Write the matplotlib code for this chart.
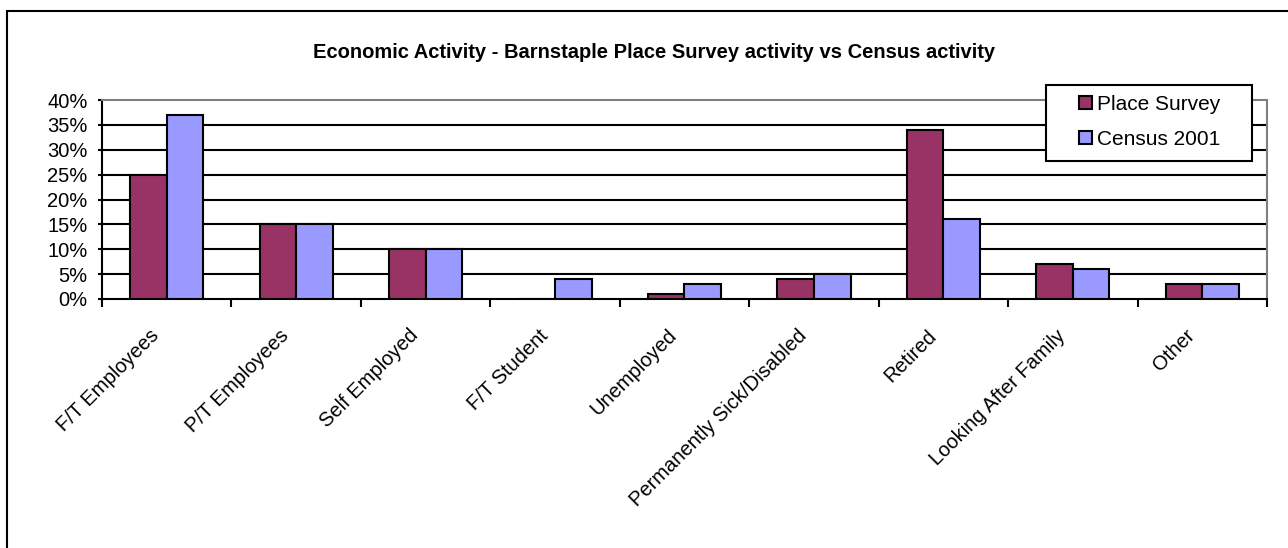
import matplotlib
matplotlib.use("Agg")
import matplotlib.pyplot as plt
import matplotlib.transforms as mtransforms
import numpy as np
from matplotlib.patches import Rectangle

categories = ["F/T Employees", "P/T Employees", "Self Employed", "F/T Student",
              "Unemployed", "Permanently Sick/Disabled", "Retired",
              "Looking After Family", "Other"]
place_survey = [25, 15, 10, 0, 1, 4, 34, 7, 3]
census_2001 = [37, 15, 10, 4, 3, 5, 16, 6, 3]
y_ticks = [0, 5, 10, 15, 20, 25, 30, 35, 40]

plt.rcParams["font.family"] = ["Liberation Sans", "DejaVu Sans"]

W, H = 1288, 548
fig = plt.figure(figsize=(W / 100, H / 100), dpi=100)
ax = fig.add_axes([102 / W, 1 - 299 / H, 1165 / W, 199 / H])

x = np.arange(len(categories))
w = 0.283
ax.bar(x + 0.5 - w / 2, place_survey, w, color="#993366", edgecolor="black",
       linewidth=1.5, label="Place Survey", zorder=3)
ax.bar(x + 0.5 + w / 2, census_2001, w, color="#9999FF", edgecolor="black",
       linewidth=1.5, label="Census 2001", zorder=3)

ax.set_xlim(0, len(categories))
ax.set_ylim(0, 40)
ax.set_yticks(y_ticks)
ax.set_yticklabels([f"{v}%" for v in y_ticks], fontsize=14.5)
ax.set_xticks(np.arange(len(categories) + 1))
ax.set_xticklabels([])
ax.tick_params(axis="x", direction="out", length=6, width=1.5)
ax.tick_params(axis="y", direction="out", length=3, width=1.5, pad=7.5)

# rotated category labels, anchored left of each category centre
off = mtransforms.ScaledTranslation(-17 / 100, -27 / 100, fig.dpi_scale_trans)
for xc, lab in zip(x + 0.5, categories):
    ax.text(xc, 0, lab, transform=ax.get_xaxis_transform() + off,
            rotation=45, rotation_mode="anchor", ha="right", va="top",
            fontsize=14.5, clip_on=False)

for v in y_ticks[1:-1]:
    ax.axhline(v, color="black", linewidth=1.5, zorder=1)

ax.spines["left"].set_linewidth(1.5)
ax.spines["bottom"].set_linewidth(1.5)
for s in ("top", "right"):
    ax.spines[s].set_color("#808080")
    ax.spines[s].set_linewidth(1.5)

# legend box
box = Rectangle((1046 / W, 1 - 161 / H), 206 / W, 76 / H, transform=fig.transFigure,
                facecolor="white", edgecolor="black", linewidth=1.5, zorder=4)
fig.patches.append(box)
leg = fig.legend(loc="center left", bbox_to_anchor=(1079 / W, 1 - 122 / H),
                 bbox_transform=fig.transFigure, fontsize=15, frameon=False,
                 handlelength=0.6, handleheight=0.6, handletextpad=0.25,
                 borderpad=0, labelspacing=0.75, borderaxespad=0)
leg.set_zorder(5)

fig.text(654 / W, 1 - 53 / H,
         "Economic Activity - Barnstaple Place Survey activity vs Census activity",
         ha="center", va="center", fontsize=14.5, fontweight="bold")

# outer chart frame (only top and left visible in the picture)
fig.patches.append(Rectangle((7 / W, -0.05), 1.2, 1 - 11 / H + 0.05,
                             transform=fig.transFigure, fill=False,
                             edgecolor="black", linewidth=1.5))

fig.savefig("out.png", dpi=100)
